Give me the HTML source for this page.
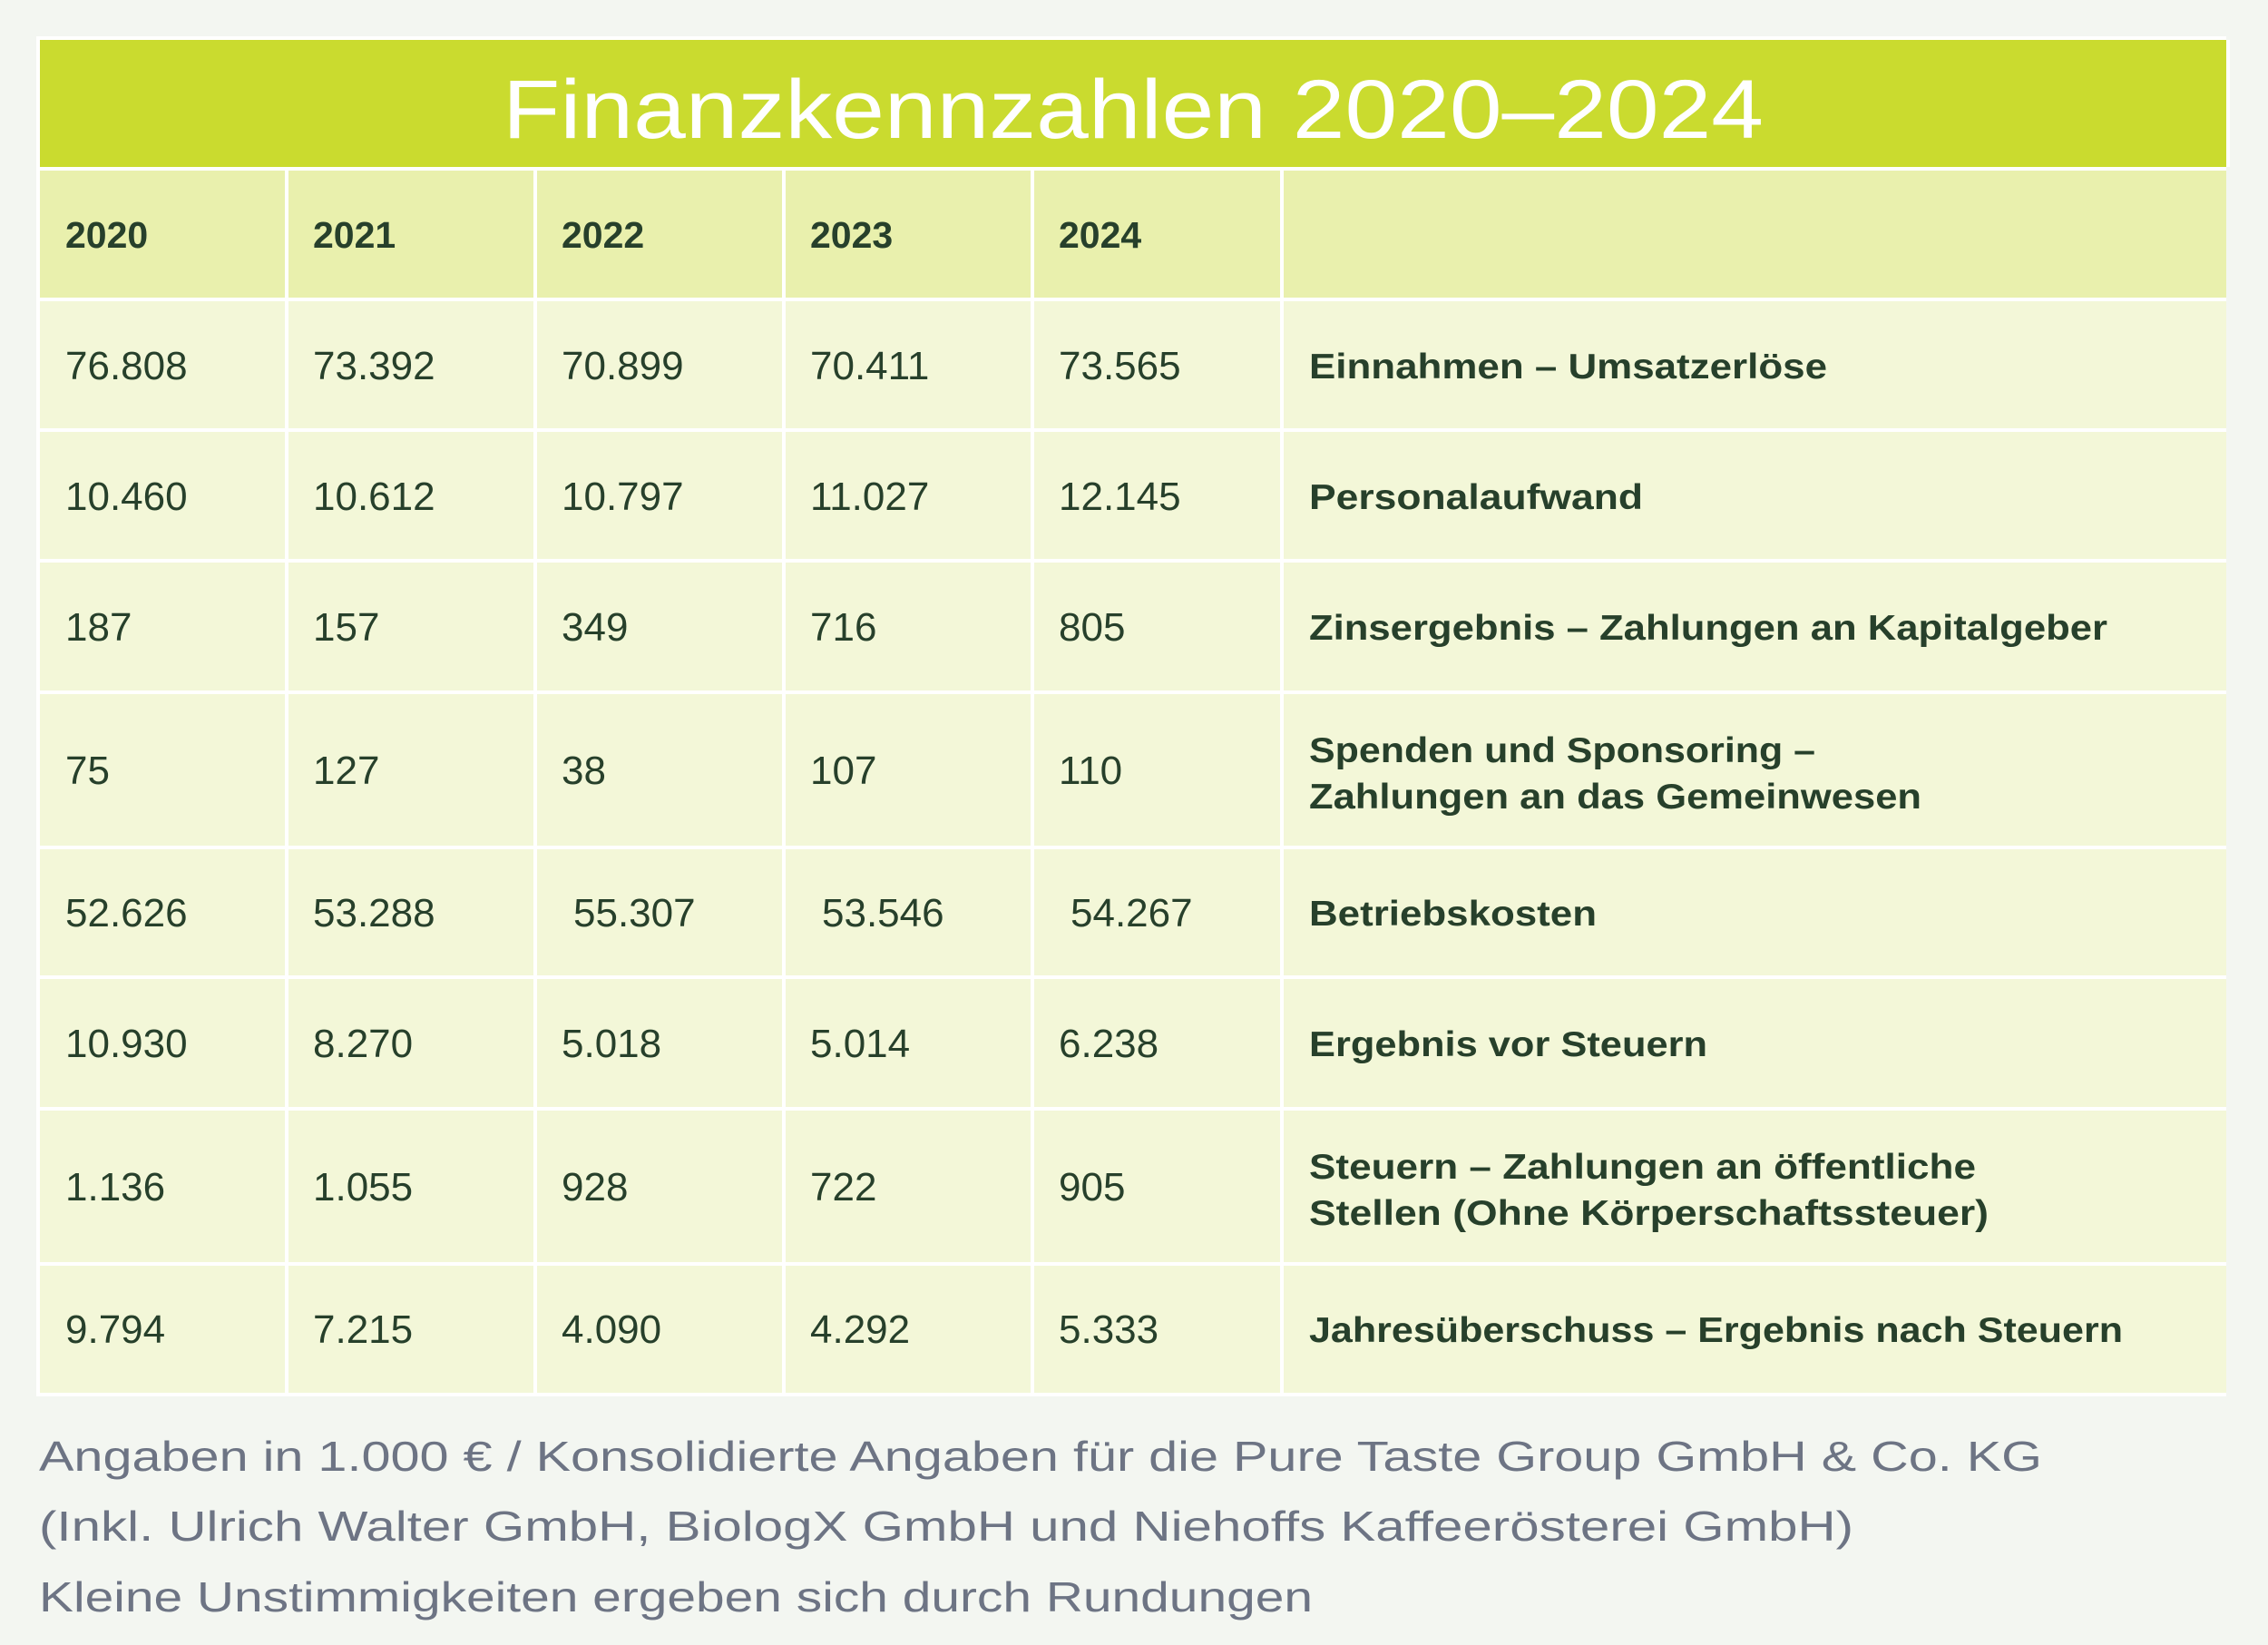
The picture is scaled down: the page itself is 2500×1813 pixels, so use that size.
<!DOCTYPE html>
<html><head><meta charset="utf-8"><style>
html,body{margin:0;padding:0;background:#f3f6f1;}
svg{display:block}
text{font-family:"Liberation Sans",sans-serif;}
.v{font-size:44px;fill:#27402b}
.h{font-size:41px;fill:#27402b;font-weight:bold}
.l{font-size:39px;fill:#27402b;font-weight:bold}
.f{font-size:46px;fill:#6d7484}
</style></head><body>
<svg width="2500" height="1813" viewBox="0 0 2500 1813" xmlns="http://www.w3.org/2000/svg">
<rect width="2500" height="1813" fill="#f3f6f1"/>
<rect x="40" y="40" width="2418" height="1499" fill="#ffffff"/>
<rect x="44" y="44" width="2410" height="140" fill="#cadb2f"/>
<text x="1249" y="152" text-anchor="middle" font-size="92" fill="#ffffff" textLength="1390" lengthAdjust="spacingAndGlyphs">Finanzkennzahlen 2020–2024</text>
<g fill="#e9f0ad">
<rect x="44" y="188" width="270" height="140"/><rect x="318" y="188" width="270" height="140"/><rect x="592" y="188" width="270" height="140"/><rect x="866" y="188" width="270" height="140"/><rect x="1140" y="188" width="271" height="140"/><rect x="1415" y="188" width="1039" height="140"/>
</g>
<g fill="#f3f7d8">
<rect x="44" y="332" width="270" height="140"/><rect x="318" y="332" width="270" height="140"/><rect x="592" y="332" width="270" height="140"/><rect x="866" y="332" width="270" height="140"/><rect x="1140" y="332" width="271" height="140"/><rect x="1415" y="332" width="1039" height="140"/>
<rect x="44" y="476" width="270" height="140"/><rect x="318" y="476" width="270" height="140"/><rect x="592" y="476" width="270" height="140"/><rect x="866" y="476" width="270" height="140"/><rect x="1140" y="476" width="271" height="140"/><rect x="1415" y="476" width="1039" height="140"/>
<rect x="44" y="620" width="270" height="141"/><rect x="318" y="620" width="270" height="141"/><rect x="592" y="620" width="270" height="141"/><rect x="866" y="620" width="270" height="141"/><rect x="1140" y="620" width="271" height="141"/><rect x="1415" y="620" width="1039" height="141"/>
<rect x="44" y="765" width="270" height="167"/><rect x="318" y="765" width="270" height="167"/><rect x="592" y="765" width="270" height="167"/><rect x="866" y="765" width="270" height="167"/><rect x="1140" y="765" width="271" height="167"/><rect x="1415" y="765" width="1039" height="167"/>
<rect x="44" y="936" width="270" height="139"/><rect x="318" y="936" width="270" height="139"/><rect x="592" y="936" width="270" height="139"/><rect x="866" y="936" width="270" height="139"/><rect x="1140" y="936" width="271" height="139"/><rect x="1415" y="936" width="1039" height="139"/>
<rect x="44" y="1079" width="270" height="141"/><rect x="318" y="1079" width="270" height="141"/><rect x="592" y="1079" width="270" height="141"/><rect x="866" y="1079" width="270" height="141"/><rect x="1140" y="1079" width="271" height="141"/><rect x="1415" y="1079" width="1039" height="141"/>
<rect x="44" y="1224" width="270" height="167"/><rect x="318" y="1224" width="270" height="167"/><rect x="592" y="1224" width="270" height="167"/><rect x="866" y="1224" width="270" height="167"/><rect x="1140" y="1224" width="271" height="167"/><rect x="1415" y="1224" width="1039" height="167"/>
<rect x="44" y="1395" width="270" height="140"/><rect x="318" y="1395" width="270" height="140"/><rect x="592" y="1395" width="270" height="140"/><rect x="866" y="1395" width="270" height="140"/><rect x="1140" y="1395" width="271" height="140"/><rect x="1415" y="1395" width="1039" height="140"/>
</g>
<rect x="1415" y="1539" width="1043" height="4" fill="#f3f6f1"/>
<rect x="2454" y="40" width="4" height="1503" fill="#f3f6f1"/>
<rect x="2454" y="44" width="4" height="140" fill="#ffffff"/>

<g class="h">
<text x="72" y="273">2020</text><text x="345" y="273">2021</text><text x="619" y="273">2022</text><text x="893" y="273">2023</text><text x="1167" y="273">2024</text>
</g>
<g class="v">
<text x="72" y="418">76.808</text><text x="345" y="418">73.392</text><text x="619" y="418">70.899</text><text x="893" y="418">70.411</text><text x="1167" y="418">73.565</text>
<text x="72" y="562">10.460</text><text x="345" y="562">10.612</text><text x="619" y="562">10.797</text><text x="893" y="562">11.027</text><text x="1167" y="562">12.145</text>
<text x="72" y="706">187</text><text x="345" y="706">157</text><text x="619" y="706">349</text><text x="893" y="706">716</text><text x="1167" y="706">805</text>
<text x="72" y="864">75</text><text x="345" y="864">127</text><text x="619" y="864">38</text><text x="893" y="864">107</text><text x="1167" y="864">110</text>
<text x="72" y="1021">52.626</text><text x="345" y="1021">53.288</text><text x="632" y="1021">55.307</text><text x="906" y="1021">53.546</text><text x="1180" y="1021">54.267</text>
<text x="72" y="1165">10.930</text><text x="345" y="1165">8.270</text><text x="619" y="1165">5.018</text><text x="893" y="1165">5.014</text><text x="1167" y="1165">6.238</text>
<text x="72" y="1323">1.136</text><text x="345" y="1323">1.055</text><text x="619" y="1323">928</text><text x="893" y="1323">722</text><text x="1167" y="1323">905</text>
<text x="72" y="1480">9.794</text><text x="345" y="1480">7.215</text><text x="619" y="1480">4.090</text><text x="893" y="1480">4.292</text><text x="1167" y="1480">5.333</text>
</g>
<g class="l">
<text x="1443" y="417" textLength="571" lengthAdjust="spacingAndGlyphs">Einnahmen – Umsatzerlöse</text>
<text x="1443" y="561" textLength="368" lengthAdjust="spacingAndGlyphs">Personalaufwand</text>
<text x="1443" y="705" textLength="880" lengthAdjust="spacingAndGlyphs">Zinsergebnis – Zahlungen an Kapitalgeber</text>
<text x="1443" y="840" textLength="558" lengthAdjust="spacingAndGlyphs">Spenden und Sponsoring –</text>
<text x="1443" y="891" textLength="675" lengthAdjust="spacingAndGlyphs">Zahlungen an das Gemeinwesen</text>
<text x="1443" y="1020" textLength="317" lengthAdjust="spacingAndGlyphs">Betriebskosten</text>
<text x="1443" y="1164" textLength="439" lengthAdjust="spacingAndGlyphs">Ergebnis vor Steuern</text>
<text x="1443" y="1299" textLength="735" lengthAdjust="spacingAndGlyphs">Steuern – Zahlungen an öffentliche</text>
<text x="1443" y="1350" textLength="749" lengthAdjust="spacingAndGlyphs">Stellen (Ohne Körperschaftssteuer)</text>
<text x="1443" y="1479" textLength="897" lengthAdjust="spacingAndGlyphs">Jahresüberschuss – Ergebnis nach Steuern</text>
</g>
<g class="f">
<text x="43" y="1621" textLength="2208" lengthAdjust="spacingAndGlyphs">Angaben in 1.000 € / Konsolidierte Angaben für die Pure Taste Group GmbH &amp; Co. KG</text>
<text x="43" y="1698" textLength="2000" lengthAdjust="spacingAndGlyphs">(Inkl. Ulrich Walter GmbH, BiologX GmbH und Niehoffs Kaffeerösterei GmbH)</text>
<text x="43" y="1776" textLength="1404" lengthAdjust="spacingAndGlyphs">Kleine Unstimmigkeiten ergeben sich durch Rundungen</text>
</g>
</svg>
</body></html>
